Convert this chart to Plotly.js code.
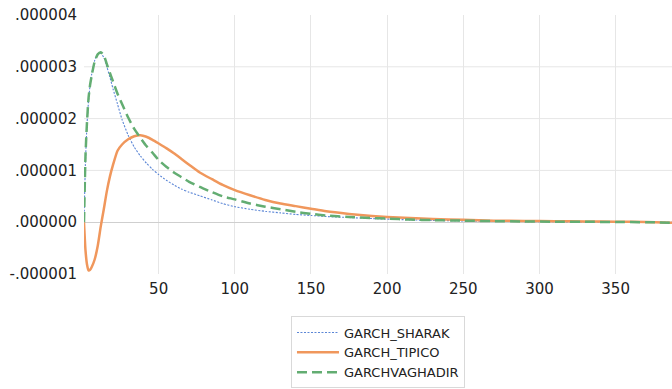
<!DOCTYPE html>
<html>
<head>
<meta charset="utf-8">
<script src="https://cdn.plot.ly/plotly-3.0.1.min.js"></script>
<style>html,body{margin:0;padding:0;background:#fff;}#chart{width:672px;height:389px;}</style>
</head>
<body>
<div id="chart"></div>
<script>
// Horizon (period) sample points
var periods = [1,2,3,4,5,6,8,10,12,14,16,18,20,23,26,30,34,38,42,46,50,55,60,65,70,77,85,92,100,110,120,130,140,150,160,175,190,200,215,230,250,270,290,310,330,350,370,387];

// Values in units of 1e-6
var sharak = [0,1.2,1.9,2.35,2.65,2.85,3.12,3.24,3.26,3.18,3.0,2.8,2.58,2.28,1.98,1.68,1.45,1.28,1.14,1.02,0.92,0.81,0.72,0.64,0.58,0.51,0.43,0.36,0.30,0.25,0.21,0.18,0.15,0.13,0.11,0.09,0.07,0.06,0.045,0.035,0.025,0.018,0.012,0.008,0.005,0.003,0.001,0];
var tipico = [0,-0.55,-0.82,-0.93,-0.92,-0.87,-0.72,-0.46,-0.08,0.25,0.6,0.88,1.1,1.38,1.5,1.6,1.66,1.68,1.65,1.59,1.52,1.43,1.33,1.22,1.11,0.96,0.83,0.72,0.62,0.52,0.43,0.36,0.31,0.26,0.21,0.16,0.12,0.10,0.08,0.06,0.045,0.03,0.025,0.02,0.015,0.01,0.005,-0.01];
var vaghadir = [0,1.3,1.95,2.4,2.65,2.82,3.1,3.24,3.28,3.22,3.05,2.88,2.72,2.48,2.28,2.02,1.80,1.63,1.47,1.34,1.20,1.07,0.96,0.87,0.78,0.68,0.58,0.50,0.44,0.36,0.30,0.25,0.20,0.16,0.13,0.10,0.08,0.07,0.05,0.04,0.03,0.02,0.015,0.01,0.008,0.004,0.0,-0.01];

var seriesNames = ["GARCH_SHARAK","GARCH_TIPICO","GARCHVAGHADIR"];
var yTickVals = [-1e-6,0,1e-6,2e-6,3e-6,4e-6];
var yTickText = ["-.000001",".000000",".000001",".000002",".000003",".000004"];
var yGridVals = [1e-6,2e-6,3e-6];

function scale(arr){ return arr.map(function(v){ return v*1e-6; }); }

var traces = [
  {x: periods, y: scale(sharak), name: seriesNames[0], mode:"lines",
   line:{color:"#5b86d6", width:1.1, dash:"2px,1.5px", shape:"spline", smoothing:0.6}},
  {x: periods, y: scale(tipico), name: seriesNames[1], mode:"lines",
   line:{color:"#f0975c", width:2.5, shape:"spline", smoothing:0.6}},
  {x: periods, y: scale(vaghadir), name: seriesNames[2], mode:"lines",
   line:{color:"#63ad72", width:2.5, dash:"10px,5px", shape:"spline", smoothing:0.6}}
];

var gridShapes = yGridVals.map(function(v){
  return {type:"line", xref:"paper", x0:0, x1:1, yref:"y", y0:v, y1:v, layer:"below",
          line:{color:"#e6e6e6", width:1}};
});

var layout = {
  width:672, height:389,
  margin:{l:84, r:0, t:15, b:111, pad:0},
  paper_bgcolor:"#fff", plot_bgcolor:"#fff",
  font:{family:"DejaVu Sans, sans-serif", color:"#222", size:15},
  xaxis:{range:[1,387], dtick:50, tick0:0, showgrid:true, gridcolor:"#e6e6e6", gridwidth:1,
         zeroline:false, showline:false, ticks:"", tickfont:{size:15, color:"#222"}, ticklabelstandoff:4},
  yaxis:{range:[-1e-6,4e-6], tickmode:"array", tickvals:yTickVals, ticktext:yTickText,
         showgrid:false, zeroline:true, zerolinecolor:"#cfcfcf", zerolinewidth:1,
         showline:false, ticks:"", tickfont:{size:15, color:"#222"}, ticklabelstandoff:6},
  shapes: gridShapes,
  showlegend:true,
  legend:{x:0.352, y:-0.164, xanchor:"left", yanchor:"top", orientation:"v",
          bordercolor:"#d9d9d9", borderwidth:1, bgcolor:"#fff",
          font:{size:13, color:"#222", family:"DejaVu Sans, sans-serif"}, itemwidth:42, tracegroupgap:0}
};

Plotly.newPlot("chart", traces, layout, {displayModeBar:false, staticPlot:true});
</script>
</body>
</html>
